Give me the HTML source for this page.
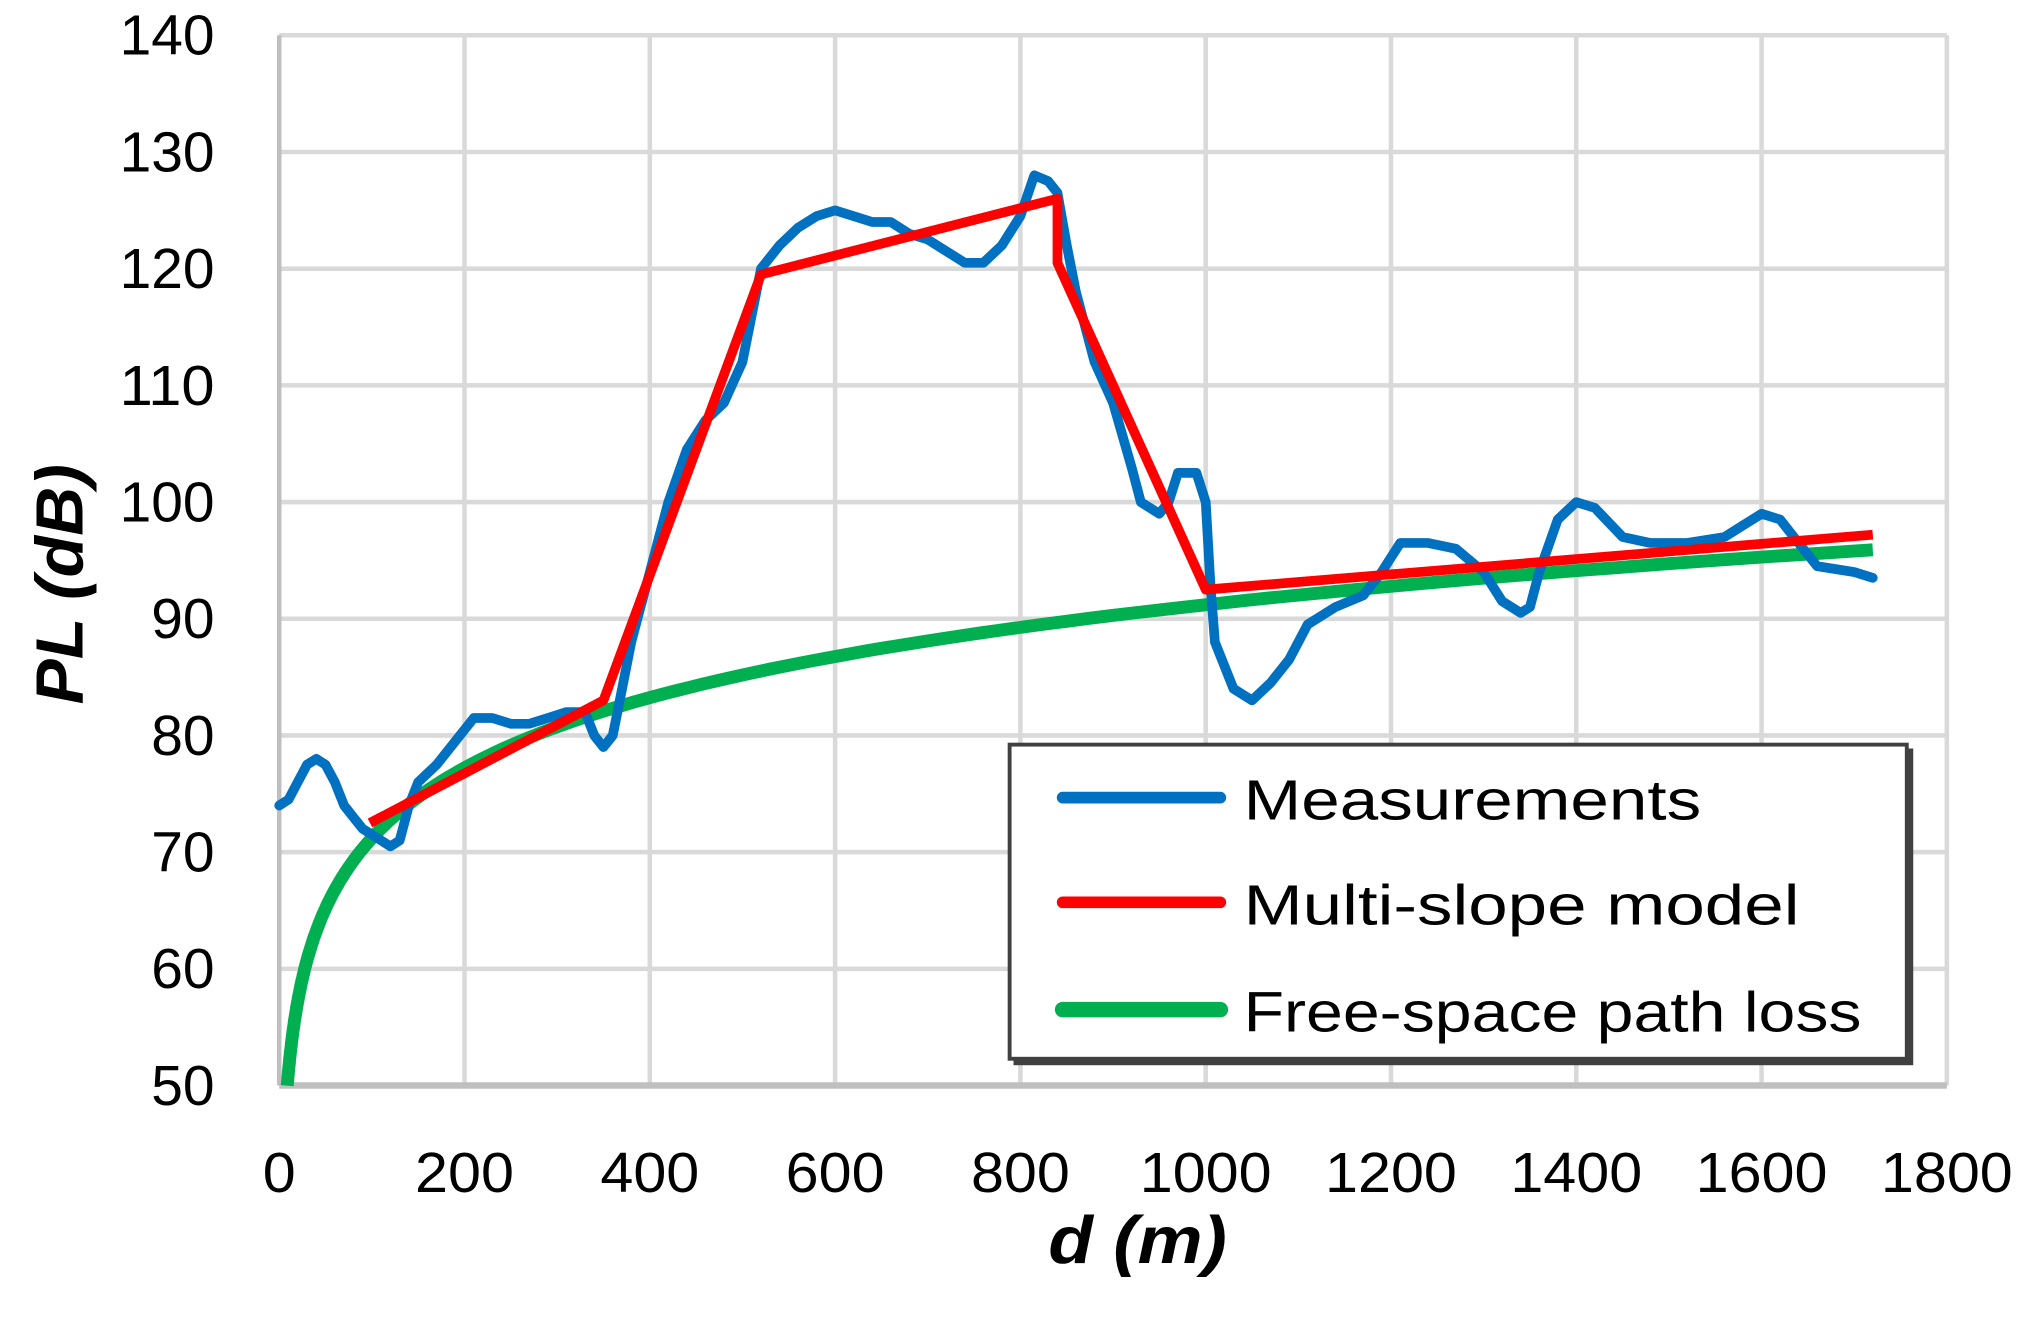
<!DOCTYPE html>
<html><head><meta charset="utf-8"><style>html,body{margin:0;padding:0;background:#fff;}svg{display:block}</style></head>
<body>
<svg id="s" width="2027" height="1323" viewBox="0 0 1568 1023.4" preserveAspectRatio="none" xmlns="http://www.w3.org/2000/svg" font-family="'Liberation Sans', sans-serif">
<g id="grid" stroke="#d9d9d9" stroke-width="3.5"></g>
<line x1="216" y1="839.7" x2="1506" y2="839.7" stroke="#bfbfbf" stroke-width="5"/>
<line x1="216" y1="27.3" x2="216" y2="839.7" stroke="#bfbfbf" stroke-width="3.5"/>
<g id="ylab" font-size="44" text-anchor="end" fill="#000"></g>
<g id="xlab" font-size="44" text-anchor="middle" fill="#000"></g>
<path id="green" fill="none" stroke="#00b050" stroke-width="10" stroke-linejoin="round"/>
<path id="blue" fill="none" stroke="#0070c0" stroke-width="7.5" stroke-linejoin="round" stroke-linecap="round"/>
<path id="red" fill="none" stroke="#ff0000" stroke-width="7.5" stroke-linejoin="round"/>
<rect x="784" y="579" width="696" height="245" fill="#404040"/>
<rect x="781" y="576" width="694" height="243" fill="#fff" stroke="#404040" stroke-width="3"/>
<line x1="822" y1="617" x2="944" y2="617" stroke="#0070c0" stroke-width="9" stroke-linecap="round"/>
<line x1="822" y1="698" x2="944" y2="698" stroke="#ff0000" stroke-width="9" stroke-linecap="round"/>
<line x1="822" y1="781" x2="944" y2="781" stroke="#00b050" stroke-width="12" stroke-linecap="round"/>
<text x="962" y="634" font-size="44" textLength="354" lengthAdjust="spacingAndGlyphs">Measurements</text>
<text x="962" y="715" font-size="44" textLength="430" lengthAdjust="spacingAndGlyphs">Multi-slope model</text>
<text x="962" y="798" font-size="44" textLength="478" lengthAdjust="spacingAndGlyphs">Free-space path loss</text>
<text x="880" y="977" font-size="52" font-weight="bold" font-style="italic" text-anchor="middle" textLength="138" lengthAdjust="spacingAndGlyphs">d (m)</text>
<text transform="translate(64,452) rotate(-90)" font-size="52" font-weight="bold" font-style="italic" text-anchor="middle" textLength="186" lengthAdjust="spacingAndGlyphs">PL (dB)</text>
</svg>
<script>
const X=d=>216+d*(1290/1800), Y=v=>27.3+(140-v)*(812.4/90);
let g='',yl='',xl='';
for(let v=50;v<=140;v+=10){ if(v>50) g+=`<line x1="216" y1="${Y(v)}" x2="1506" y2="${Y(v)}"/>`; const w=String(v).length*24.5; yl+=`<text x="166" y="${Y(v)+15}" textLength="${w}" lengthAdjust="spacingAndGlyphs">${v}</text>`;}
for(let d=0;d<=1800;d+=200){ if(d>0) g+=`<line x1="${X(d)}" y1="27.3" x2="${X(d)}" y2="839.7"/>`; const w=String(d).length*25.5; xl+=`<text x="${X(d)}" y="922" textLength="${w}" lengthAdjust="spacingAndGlyphs">${d}</text>`;}
document.getElementById('grid').innerHTML=g;
document.getElementById('ylab').innerHTML=yl;
document.getElementById('xlab').innerHTML=xl;
const m=[[0,74],[10,74.5],[20,76],[30,77.5],[40,78],[50,77.5],[60,76],[70,74],[80,73],[90,72],[100,71.5],[110,71],[120,70.5],[130,71],[140,74],[150,76],[170,77.5],[190,79.5],[210,81.5],[230,81.5],[250,81],[270,81],[290,81.5],[310,82],[330,82],[340,80],[350,79],[360,80],[370,84],[380,88],[400,94],[420,100],[440,104.5],[460,107],[480,108.5],[500,112],[510,116],[520,120],[540,122],[560,123.5],[580,124.5],[600,125],[620,124.5],[640,124],[660,124],[680,123],[700,122.5],[720,121.5],[740,120.5],[760,120.5],[780,122],[800,124.5],[815,128],[830,127.5],[840,126.5],[850,122],[860,118],[880,112],[900,108.5],[920,103],[930,100],[950,99],[960,100],[970,102.5],[990,102.5],[1000,100],[1005,93],[1010,88],[1030,84],[1050,83],[1070,84.5],[1090,86.5],[1110,89.5],[1140,91],[1170,92],[1190,94],[1210,96.5],[1240,96.5],[1270,96],[1300,94],[1320,91.5],[1340,90.5],[1350,91],[1360,94],[1380,98.5],[1400,100],[1420,99.5],[1450,97],[1480,96.5],[1520,96.5],[1560,97],[1580,98],[1600,99],[1620,98.5],[1640,96.5],[1660,94.5],[1700,94],[1720,93.5]];
const P=a=>a.map((p,i)=>(i?'L':'M')+X(p[0]).toFixed(1)+' '+Y(p[1]).toFixed(1)).join(' ');
document.getElementById('blue').setAttribute('d',P(m));
document.getElementById('red').setAttribute('d',P([[98,72.5],[350,83],[520,119.5],[840,126],[840,120.5],[1000,92.5],[1720,97.2]]));
let gr=[];for(let d=8.7;d<=1720;d*=1.03)gr.push([d,31.2+20*Math.log10(d)]);gr.push([1720,31.2+20*Math.log10(1720)]);
document.getElementById('green').setAttribute('d',P(gr));
</script>
</body></html>
